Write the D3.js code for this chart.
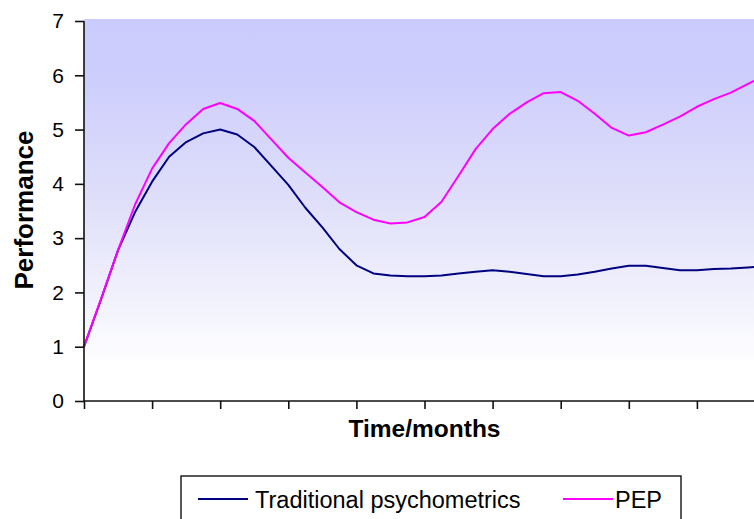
<!DOCTYPE html>
<html>
<head>
<meta charset="utf-8">
<script src="https://cdn.jsdelivr.net/npm/d3@7/dist/d3.min.js"></script>
<style>
  html, body { margin: 0; padding: 0; background: #fff; }
  svg { display: block; font-family: "Liberation Sans", Arial, sans-serif; }
</style>
</head>
<body>
<svg id="chart" width="754" height="519"></svg>
<script>
// ---- data ----
const timePoints = [0,1,2,3,4,5,6,7,8,9,10,11,12,13,14,15,16,17,18,19,20,
                    21,22,23,24,25,26,27,28,29,30,31,32,33,34,35,36,37,38,39,40];
const traditional = [1.00,1.87,2.78,3.48,4.04,4.50,4.77,4.93,5.00,4.91,4.68,4.33,3.98,3.56,3.20,2.80,2.50,2.35,2.31,2.30,2.30,
                     2.31,2.35,2.38,2.41,2.38,2.34,2.30,2.30,2.33,2.38,2.44,2.49,2.49,2.45,2.41,2.41,2.43,2.44,2.46,2.48];
const pep = [1.00,1.88,2.78,3.62,4.28,4.75,5.10,5.38,5.49,5.38,5.16,4.82,4.48,4.21,3.94,3.66,3.48,3.34,3.27,3.29,3.39,
             3.67,4.15,4.64,5.01,5.29,5.50,5.67,5.69,5.53,5.29,5.03,4.89,4.95,5.09,5.24,5.42,5.56,5.68,5.84,6.00];
const yTicks = [0,1,2,3,4,5,6,7];
const xTicks = [0,4,8,12,16,20,24,28,32,36,40];
const seriesNames = ["Traditional psychometrics", "PEP"];
const seriesColors = ["#000080", "#ff00ff"];

// ---- layout ----
const svg = d3.select("#chart");
const plotLeft = 84, plotRight = 765, plotTop = 21, plotBottom = 401;

const x = d3.scaleLinear().domain([0, 40]).range([plotLeft, plotRight]);
const y = d3.scaleLinear().domain([0, 7]).range([plotBottom, plotTop]);

// background gradient
const defs = svg.append("defs");
const grad = defs.append("linearGradient").attr("id", "bg")
  .attr("x1", 0).attr("y1", 0).attr("x2", 0).attr("y2", 1);
grad.append("stop").attr("offset", "0%").attr("stop-color", "#cbcbfd");
grad.append("stop").attr("offset", "18%").attr("stop-color", "#cecefd");
grad.append("stop").attr("offset", "55%").attr("stop-color", "#e0e0fa");
grad.append("stop").attr("offset", "100%").attr("stop-color", "#fdfdff");

svg.append("rect")
  .attr("x", plotLeft).attr("y", 19)
  .attr("width", plotRight - plotLeft).attr("height", y(0.75) - 19)
  .attr("fill", "url(#bg)");

// lines
const line = d3.line()
  .x((d, i) => x(timePoints[i]))
  .y(d => y(d));

[traditional, pep].forEach((vals, si) => {
  svg.append("path")
    .datum(vals)
    .attr("d", line)
    .attr("fill", "none")
    .attr("stroke", seriesColors[si])
    .attr("stroke-width", 2)
    .attr("stroke-linejoin", "round");
});

// axes
const yAxis = d3.axisLeft(y).tickValues(yTicks).tickSize(9).tickPadding(11).tickFormat(d3.format("d"));
const gy = svg.append("g").attr("transform", `translate(${plotLeft},0)`).call(yAxis);
gy.select(".domain").attr("d", `M0,${plotBottom}V${plotTop}`);
gy.selectAll("text").attr("font-size", 21).attr("fill", "#000").attr("font-family", "Liberation Sans, Arial, sans-serif");
gy.selectAll("line, path").attr("stroke", "#111").attr("stroke-width", 1.6);

const xAxis = d3.axisBottom(x).tickValues(xTicks).tickSize(8).tickFormat("");
const gx = svg.append("g").attr("transform", `translate(0,${plotBottom})`).call(xAxis);
gx.select(".domain").attr("d", `M${plotLeft},0H${plotRight}`);
gx.selectAll("line, path").attr("stroke", "#111").attr("stroke-width", 1.6);

// axis titles
svg.append("text")
  .attr("x", (plotLeft + plotRight) / 2).attr("y", 437)
  .attr("text-anchor", "middle")
  .attr("font-size", 24.5).attr("font-weight", "bold")
  .text("Time/months");

svg.append("text")
  .attr("transform", `translate(33,210) rotate(-90)`)
  .attr("text-anchor", "middle")
  .attr("font-size", 26).attr("font-weight", "bold")
  .text("Performance");

// legend
const lg = svg.append("g");
lg.append("rect")
  .attr("x", 181).attr("y", 476)
  .attr("width", 500).attr("height", 70)
  .attr("fill", "#fff").attr("stroke", "#000").attr("stroke-width", 1.3);

const legendItems = [
  { lineX: 198, textX: 255 },
  { lineX: 563, textX: 615 }
];
seriesNames.forEach((name, i) => {
  const it = legendItems[i];
  lg.append("line")
    .attr("x1", it.lineX).attr("x2", it.lineX + 50)
    .attr("y1", 499).attr("y2", 499)
    .attr("stroke", seriesColors[i]).attr("stroke-width", 2);
  lg.append("text")
    .attr("x", it.textX).attr("y", 507.5)
    .attr("font-size", 23.5)
    .text(name);
});
</script>
</body>
</html>
